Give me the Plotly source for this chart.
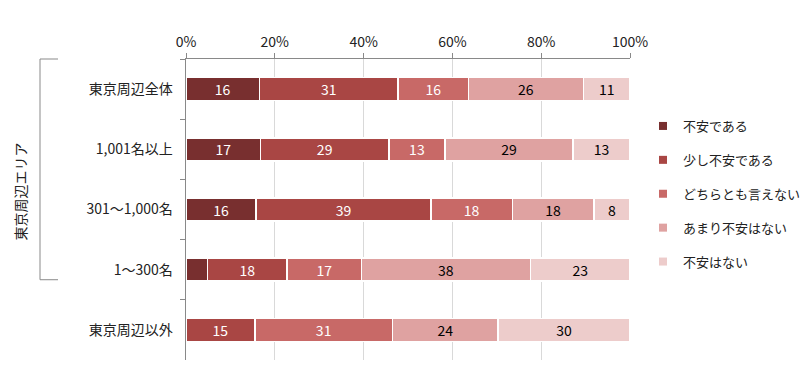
import plotly.graph_objects as go

categories = ["東京周辺全体", "1,001名以上", "301～1,000名", "1～300名", "東京周辺以外"]
series_names = ["不安である", "少し不安である", "どちらとも言えない", "あまり不安はない", "不安はない"]
s_fuan = [16.5, 16.8, 15.8, 4.8, 0]
s_sukoshi = [31.3, 28.9, 39.4, 18.0, 15.5]
s_dochira = [15.8, 12.6, 18.3, 16.7, 31.0]
s_amari = [25.9, 28.9, 18.4, 38.1, 23.8]
s_nai = [10.5, 12.8, 8.1, 22.4, 29.7]
labels_fuan = ["16", "17", "16", "", ""]
labels_sukoshi = ["31", "29", "39", "18", "15"]
labels_dochira = ["16", "13", "18", "17", "31"]
labels_amari = ["26", "29", "18", "38", "24"]
labels_nai = ["11", "13", "8", "23", "30"]
x_ticks = [0, 20, 40, 60, 80, 100]
x_tick_labels = ["0%", "20%", "40%", "60%", "80%", "100%"]
group_label = "東京周辺エリア"

colors = ["#782F2F", "#A94644", "#C86967", "#DFA2A1", "#EDCCCB"]
text_colors = ["white", "white", "white", "black", "black"]
values = [s_fuan, s_sukoshi, s_dochira, s_amari, s_nai]
texts = [labels_fuan, labels_sukoshi, labels_dochira, labels_amari, labels_nai]

FONT = "Noto Sans CJK JP"
fig = go.Figure()
for i, name in enumerate(series_names):
    fig.add_trace(go.Bar(
        y=categories, x=values[i], orientation="h", name=name,
        marker=dict(color=colors[i], line=dict(color="white", width=1.5)),
        text=texts[i], textposition="inside", insidetextanchor="middle",
        textangle=0, constraintext="none",
        textfont=dict(color=text_colors[i], size=14, family=FONT),
        showlegend=False, hoverinfo="skip",
    ))
    fig.add_trace(go.Scatter(
        x=[None], y=[None], mode="markers", name=name,
        marker=dict(symbol="square", size=8, color=colors[i]),
        legendgroup=name, showlegend=True,
    ))

fig.update_layout(
    width=808, height=375,
    barmode="stack", barnorm="percent", bargap=0.617,
    plot_bgcolor="white", paper_bgcolor="white",
    margin=dict(l=186, r=178, t=59, b=15, autoexpand=False),
    font=dict(family=FONT, size=13, color="#222222"),
    legend=dict(xref="container", x=643 / 808, xanchor="left",
                yref="container", y=(375 - 111) / 375, yanchor="top",
                traceorder="grouped", tracegroupgap=14,
                font=dict(size=13, family=FONT, color="#222222"),
                itemwidth=30, bgcolor="rgba(0,0,0,0)"),
    xaxis=dict(side="top", range=[0, 100], tickvals=x_ticks, ticktext=x_tick_labels,
               showgrid=True, gridcolor="#D9D9D9", gridwidth=1,
               showline=True, linecolor="#898989", linewidth=1,
               ticks="outside", ticklen=5, tickcolor="#898989",
               zeroline=False, automargin=False, tickfont=dict(size=14, family=FONT)),
    yaxis=dict(autorange="reversed", showline=True, linecolor="#898989",
               linewidth=1, ticks="outside", ticklen=5, tickcolor="#898989",
               tickson="boundaries", showgrid=False, ticksuffix="   ",
               automargin=False, tickfont=dict(size=14, family=FONT)),
)

# bracket for the 東京周辺エリア group
bx = (40 - 186) / 444
bx2 = (58 - 186) / 444
ytop = 1.0
ybot = (360 - 280) / 300
line = dict(color="#898989", width=1)
fig.add_shape(type="line", xref="paper", yref="paper", x0=bx, x1=bx2, y0=ytop, y1=ytop, line=line)
fig.add_shape(type="line", xref="paper", yref="paper", x0=bx, x1=bx, y0=ytop, y1=ybot, line=line)
fig.add_shape(type="line", xref="paper", yref="paper", x0=bx, x1=bx2, y0=ybot, y1=ybot, line=line)
fig.add_annotation(text=group_label, xref="paper", yref="paper",
                   x=(8 - 186) / 444, y=(360 - 192) / 300, textangle=-90,
                   showarrow=False, font=dict(size=14, family=FONT, color="#222222"))

fig.write_html("out.html", config={"displayModeBar": False},
               post_script="document.body.style.margin='0px';")
